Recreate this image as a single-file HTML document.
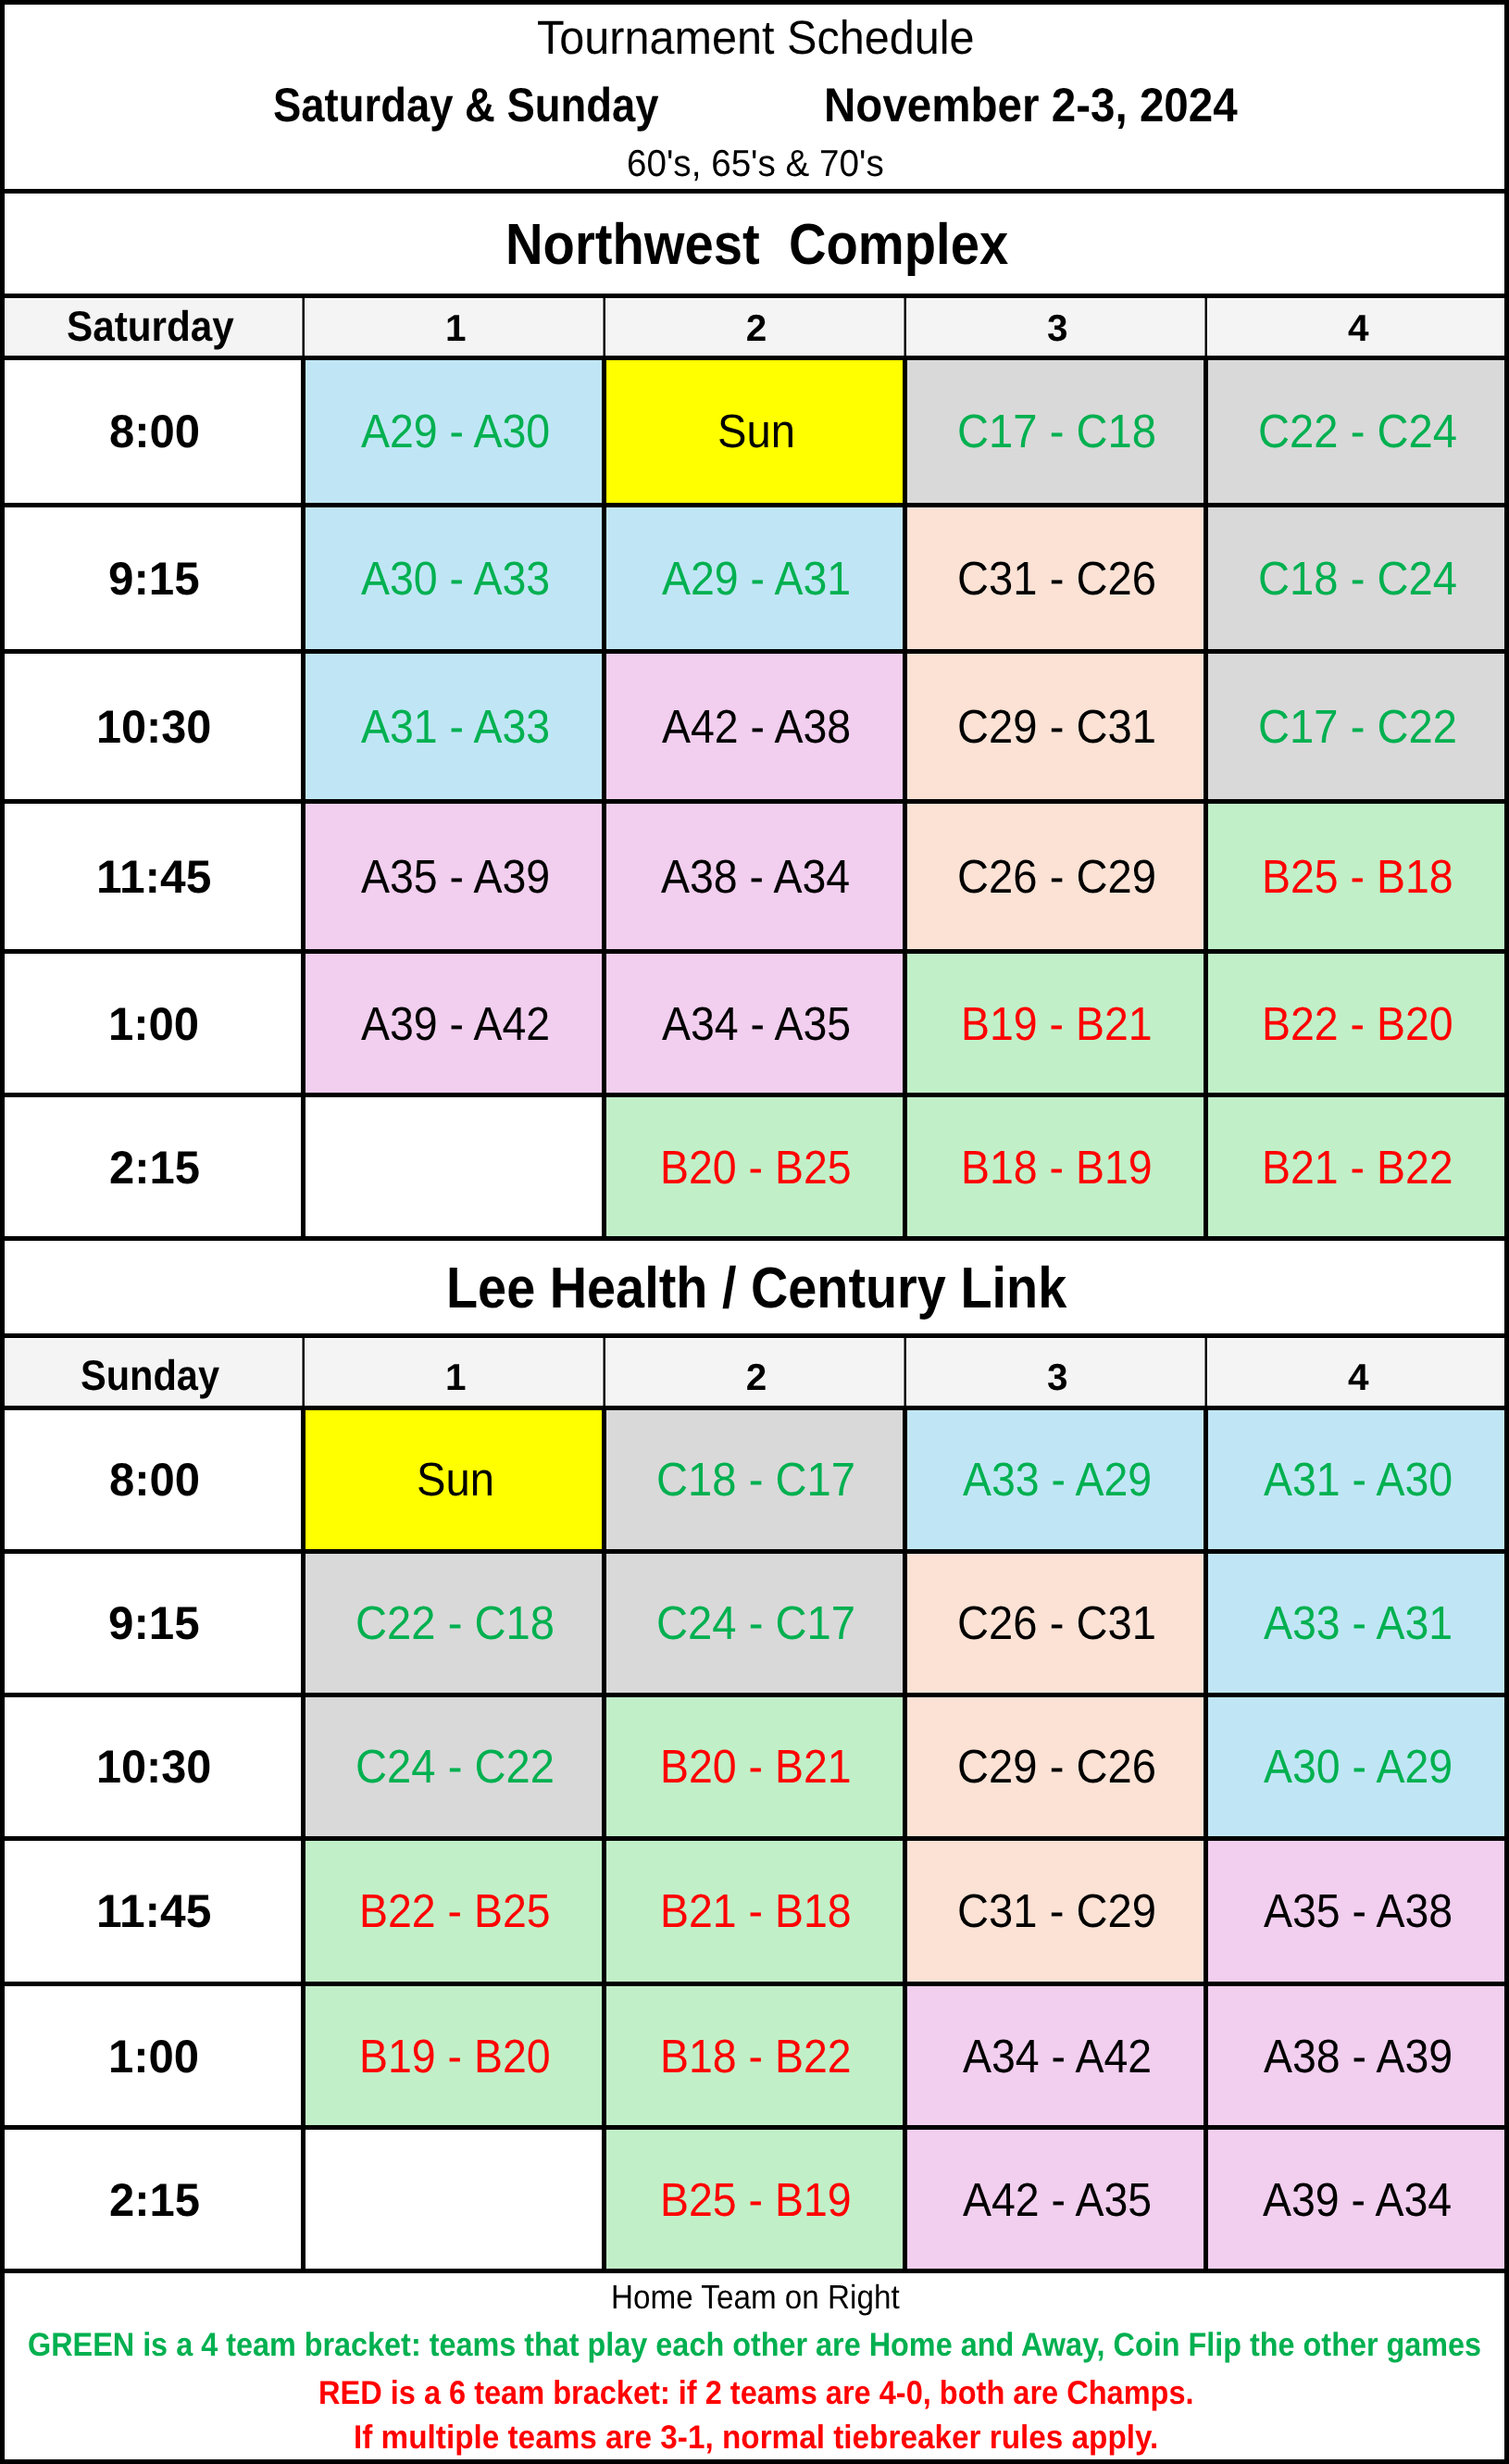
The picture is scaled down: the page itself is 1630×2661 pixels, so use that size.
<!DOCTYPE html>
<html><head><meta charset="utf-8"><title>Tournament Schedule</title>
<style>
html,body{margin:0;padding:0;background:#fff}
body{width:1630px;height:2661px;position:relative;overflow:hidden;font-family:"Liberation Sans",sans-serif}
#sheet{position:absolute;left:0;top:0;width:1630px;height:2661px;will-change:transform}
.r{position:absolute}
.t{position:absolute;white-space:pre;line-height:0;transform-origin:0 0;display:block;text-rendering:geometricPrecision}
.b{font-weight:bold}
.n{font-weight:normal}
</style></head>
<body>
<div id="sheet">
<div class="r" style="left:6px;top:323px;width:319px;height:60px;background:#f4f4f4"></div>
<div class="r" style="left:330px;top:323px;width:320px;height:60px;background:#f4f4f4"></div>
<div class="r" style="left:655px;top:323px;width:320px;height:60px;background:#f4f4f4"></div>
<div class="r" style="left:980px;top:323px;width:320px;height:60px;background:#f4f4f4"></div>
<div class="r" style="left:1305px;top:323px;width:320px;height:60px;background:#f4f4f4"></div>
<div class="r" style="left:330px;top:389px;width:320px;height:154px;background:#c0e6f5"></div>
<div class="r" style="left:655px;top:389px;width:320px;height:154px;background:#ffff00"></div>
<div class="r" style="left:980px;top:389px;width:320px;height:154px;background:#d9d9d9"></div>
<div class="r" style="left:1305px;top:389px;width:320px;height:154px;background:#d9d9d9"></div>
<div class="r" style="left:330px;top:548px;width:320px;height:153px;background:#c0e6f5"></div>
<div class="r" style="left:655px;top:548px;width:320px;height:153px;background:#c0e6f5"></div>
<div class="r" style="left:980px;top:548px;width:320px;height:153px;background:#fbe2d5"></div>
<div class="r" style="left:1305px;top:548px;width:320px;height:153px;background:#d9d9d9"></div>
<div class="r" style="left:330px;top:706px;width:320px;height:157px;background:#c0e6f5"></div>
<div class="r" style="left:655px;top:706px;width:320px;height:157px;background:#f2ceef"></div>
<div class="r" style="left:980px;top:706px;width:320px;height:157px;background:#fbe2d5"></div>
<div class="r" style="left:1305px;top:706px;width:320px;height:157px;background:#d9d9d9"></div>
<div class="r" style="left:330px;top:868px;width:320px;height:157px;background:#f2ceef"></div>
<div class="r" style="left:655px;top:868px;width:320px;height:157px;background:#f2ceef"></div>
<div class="r" style="left:980px;top:868px;width:320px;height:157px;background:#fbe2d5"></div>
<div class="r" style="left:1305px;top:868px;width:320px;height:157px;background:#c1f0c8"></div>
<div class="r" style="left:330px;top:1030px;width:320px;height:150px;background:#f2ceef"></div>
<div class="r" style="left:655px;top:1030px;width:320px;height:150px;background:#f2ceef"></div>
<div class="r" style="left:980px;top:1030px;width:320px;height:150px;background:#c1f0c8"></div>
<div class="r" style="left:1305px;top:1030px;width:320px;height:150px;background:#c1f0c8"></div>
<div class="r" style="left:655px;top:1185px;width:320px;height:150px;background:#c1f0c8"></div>
<div class="r" style="left:980px;top:1185px;width:320px;height:150px;background:#c1f0c8"></div>
<div class="r" style="left:1305px;top:1185px;width:320px;height:150px;background:#c1f0c8"></div>
<div class="r" style="left:6px;top:1446px;width:319px;height:71px;background:#f4f4f4"></div>
<div class="r" style="left:330px;top:1446px;width:320px;height:71px;background:#f4f4f4"></div>
<div class="r" style="left:655px;top:1446px;width:320px;height:71px;background:#f4f4f4"></div>
<div class="r" style="left:980px;top:1446px;width:320px;height:71px;background:#f4f4f4"></div>
<div class="r" style="left:1305px;top:1446px;width:320px;height:71px;background:#f4f4f4"></div>
<div class="r" style="left:330px;top:1523px;width:320px;height:150px;background:#ffff00"></div>
<div class="r" style="left:655px;top:1523px;width:320px;height:150px;background:#d9d9d9"></div>
<div class="r" style="left:980px;top:1523px;width:320px;height:150px;background:#c0e6f5"></div>
<div class="r" style="left:1305px;top:1523px;width:320px;height:150px;background:#c0e6f5"></div>
<div class="r" style="left:330px;top:1678px;width:320px;height:150px;background:#d9d9d9"></div>
<div class="r" style="left:655px;top:1678px;width:320px;height:150px;background:#d9d9d9"></div>
<div class="r" style="left:980px;top:1678px;width:320px;height:150px;background:#fbe2d5"></div>
<div class="r" style="left:1305px;top:1678px;width:320px;height:150px;background:#c0e6f5"></div>
<div class="r" style="left:330px;top:1833px;width:320px;height:150px;background:#d9d9d9"></div>
<div class="r" style="left:655px;top:1833px;width:320px;height:150px;background:#c1f0c8"></div>
<div class="r" style="left:980px;top:1833px;width:320px;height:150px;background:#fbe2d5"></div>
<div class="r" style="left:1305px;top:1833px;width:320px;height:150px;background:#c0e6f5"></div>
<div class="r" style="left:330px;top:1988px;width:320px;height:152px;background:#c1f0c8"></div>
<div class="r" style="left:655px;top:1988px;width:320px;height:152px;background:#c1f0c8"></div>
<div class="r" style="left:980px;top:1988px;width:320px;height:152px;background:#fbe2d5"></div>
<div class="r" style="left:1305px;top:1988px;width:320px;height:152px;background:#f2ceef"></div>
<div class="r" style="left:330px;top:2145px;width:320px;height:150px;background:#c1f0c8"></div>
<div class="r" style="left:655px;top:2145px;width:320px;height:150px;background:#c1f0c8"></div>
<div class="r" style="left:980px;top:2145px;width:320px;height:150px;background:#f2ceef"></div>
<div class="r" style="left:1305px;top:2145px;width:320px;height:150px;background:#f2ceef"></div>
<div class="r" style="left:655px;top:2300px;width:320px;height:150px;background:#c1f0c8"></div>
<div class="r" style="left:980px;top:2300px;width:320px;height:150px;background:#f2ceef"></div>
<div class="r" style="left:1305px;top:2300px;width:320px;height:150px;background:#f2ceef"></div>
<div class="r" style="left:0px;top:0px;width:1630px;height:5px;background:#000"></div>
<div class="r" style="left:0px;top:204px;width:1630px;height:5px;background:#000"></div>
<div class="r" style="left:0px;top:317px;width:1630px;height:5px;background:#000"></div>
<div class="r" style="left:0px;top:384px;width:1630px;height:5px;background:#000"></div>
<div class="r" style="left:0px;top:543px;width:1630px;height:5px;background:#000"></div>
<div class="r" style="left:0px;top:701px;width:1630px;height:5px;background:#000"></div>
<div class="r" style="left:0px;top:863px;width:1630px;height:5px;background:#000"></div>
<div class="r" style="left:0px;top:1025px;width:1630px;height:5px;background:#000"></div>
<div class="r" style="left:0px;top:1180px;width:1630px;height:5px;background:#000"></div>
<div class="r" style="left:0px;top:1335px;width:1630px;height:5px;background:#000"></div>
<div class="r" style="left:0px;top:1440px;width:1630px;height:5px;background:#000"></div>
<div class="r" style="left:0px;top:1518px;width:1630px;height:5px;background:#000"></div>
<div class="r" style="left:0px;top:1673px;width:1630px;height:5px;background:#000"></div>
<div class="r" style="left:0px;top:1828px;width:1630px;height:5px;background:#000"></div>
<div class="r" style="left:0px;top:1983px;width:1630px;height:5px;background:#000"></div>
<div class="r" style="left:0px;top:2140px;width:1630px;height:5px;background:#000"></div>
<div class="r" style="left:0px;top:2295px;width:1630px;height:5px;background:#000"></div>
<div class="r" style="left:0px;top:2450px;width:1630px;height:5px;background:#000"></div>
<div class="r" style="left:0px;top:2656px;width:1630px;height:5px;background:#000"></div>
<div class="r" style="left:0px;top:0px;width:5px;height:2661px;background:#000"></div>
<div class="r" style="left:1625px;top:0px;width:5px;height:2661px;background:#000"></div>
<div class="r" style="left:325px;top:384px;width:5px;height:956px;background:#000"></div>
<div class="r" style="left:650px;top:384px;width:5px;height:956px;background:#000"></div>
<div class="r" style="left:975px;top:384px;width:5px;height:956px;background:#000"></div>
<div class="r" style="left:1300px;top:384px;width:5px;height:956px;background:#000"></div>
<div class="r" style="left:325px;top:1518px;width:5px;height:937px;background:#000"></div>
<div class="r" style="left:650px;top:1518px;width:5px;height:937px;background:#000"></div>
<div class="r" style="left:975px;top:1518px;width:5px;height:937px;background:#000"></div>
<div class="r" style="left:1300px;top:1518px;width:5px;height:937px;background:#000"></div>
<div class="r" style="left:326px;top:322px;width:1px;height:62px;background:#777"></div>
<div class="r" style="left:327px;top:322px;width:2px;height:62px;background:#000"></div>
<div class="r" style="left:651px;top:322px;width:1px;height:62px;background:#777"></div>
<div class="r" style="left:652px;top:322px;width:2px;height:62px;background:#000"></div>
<div class="r" style="left:976px;top:322px;width:1px;height:62px;background:#777"></div>
<div class="r" style="left:977px;top:322px;width:2px;height:62px;background:#000"></div>
<div class="r" style="left:1301px;top:322px;width:1px;height:62px;background:#777"></div>
<div class="r" style="left:1302px;top:322px;width:2px;height:62px;background:#000"></div>
<div class="r" style="left:326px;top:1445px;width:1px;height:73px;background:#777"></div>
<div class="r" style="left:327px;top:1445px;width:2px;height:73px;background:#000"></div>
<div class="r" style="left:651px;top:1445px;width:1px;height:73px;background:#777"></div>
<div class="r" style="left:652px;top:1445px;width:2px;height:73px;background:#000"></div>
<div class="r" style="left:976px;top:1445px;width:1px;height:73px;background:#777"></div>
<div class="r" style="left:977px;top:1445px;width:2px;height:73px;background:#000"></div>
<div class="r" style="left:1301px;top:1445px;width:1px;height:73px;background:#777"></div>
<div class="r" style="left:1302px;top:1445px;width:2px;height:73px;background:#000"></div>
<span class="t n" style="left:580.41px;top:41px;font-size:51.2px;color:#000000;transform:scaleX(0.9490)">Tournament Schedule</span>
<span class="t b" style="left:294.64px;top:113px;font-size:51.7px;color:#000000;transform:scaleX(0.8790)">Saturday &amp; Sunday</span>
<span class="t b" style="left:890.49px;top:113px;font-size:51.7px;color:#000000;transform:scaleX(0.9200)">November 2-3, 2024</span>
<span class="t n" style="left:677.07px;top:176px;font-size:40.4px;color:#000000;transform:scaleX(0.9566)">60&#x27;s, 65&#x27;s &amp; 70&#x27;s</span>
<span class="t b" style="left:545.81px;top:265px;font-size:62.4px;color:#000000;transform:scaleX(0.9006)">Northwest  Complex</span>
<span class="t b" style="left:482.03px;top:1392px;font-size:62.4px;color:#000000;transform:scaleX(0.8950)">Lee Health / Century Link</span>
<span class="t b" style="left:72.33px;top:352px;font-size:46px;color:#000000;transform:scaleX(0.9188)">Saturday</span>
<span class="t b" style="left:87.15px;top:1485px;font-size:46px;color:#000000;transform:scaleX(0.9030)">Sunday</span>
<span class="t b" style="left:480.90px;top:354px;font-size:40.5px;color:#000000;transform:scaleX(1.0000)">1</span>
<span class="t b" style="left:805.86px;top:354px;font-size:40.5px;color:#000000;transform:scaleX(1.0000)">2</span>
<span class="t b" style="left:1131.11px;top:354px;font-size:40.5px;color:#000000;transform:scaleX(1.0000)">3</span>
<span class="t b" style="left:1455.96px;top:354px;font-size:40.5px;color:#000000;transform:scaleX(1.0000)">4</span>
<span class="t b" style="left:480.90px;top:1487px;font-size:40.5px;color:#000000;transform:scaleX(1.0000)">1</span>
<span class="t b" style="left:805.86px;top:1487px;font-size:40.5px;color:#000000;transform:scaleX(1.0000)">2</span>
<span class="t b" style="left:1131.11px;top:1487px;font-size:40.5px;color:#000000;transform:scaleX(1.0000)">3</span>
<span class="t b" style="left:1455.96px;top:1487px;font-size:40.5px;color:#000000;transform:scaleX(1.0000)">4</span>
<span class="t b" style="left:117.86px;top:466px;font-size:50px;color:#000000;transform:scaleX(0.9805)">8:00</span>
<span class="t n" style="left:389.53px;top:466px;font-size:51px;color:#00b050;transform:scaleX(0.9110)">A29 - A30</span>
<span class="t n" style="left:774.54px;top:466px;font-size:51px;color:#000000;transform:scaleX(0.9250)">Sun</span>
<span class="t n" style="left:1034.12px;top:466px;font-size:51px;color:#00b050;transform:scaleX(0.9250)">C17 - C18</span>
<span class="t n" style="left:1358.77px;top:466px;font-size:51px;color:#00b050;transform:scaleX(0.9250)">C22 - C24</span>
<span class="t b" style="left:117.22px;top:625px;font-size:50px;color:#000000;transform:scaleX(0.9858)">9:15</span>
<span class="t n" style="left:389.65px;top:625px;font-size:51px;color:#00b050;transform:scaleX(0.9110)">A30 - A33</span>
<span class="t n" style="left:714.76px;top:625px;font-size:51px;color:#00b050;transform:scaleX(0.9110)">A29 - A31</span>
<span class="t n" style="left:1034.12px;top:625px;font-size:51px;color:#000000;transform:scaleX(0.9250)">C31 - C26</span>
<span class="t n" style="left:1358.77px;top:625px;font-size:51px;color:#00b050;transform:scaleX(0.9250)">C18 - C24</span>
<span class="t b" style="left:103.96px;top:785px;font-size:50px;color:#000000;transform:scaleX(0.9727)">10:30</span>
<span class="t n" style="left:389.65px;top:785px;font-size:51px;color:#00b050;transform:scaleX(0.9110)">A31 - A33</span>
<span class="t n" style="left:714.65px;top:785px;font-size:51px;color:#000000;transform:scaleX(0.9110)">A42 - A38</span>
<span class="t n" style="left:1034.24px;top:785px;font-size:51px;color:#000000;transform:scaleX(0.9250)">C29 - C31</span>
<span class="t n" style="left:1359.30px;top:785px;font-size:51px;color:#00b050;transform:scaleX(0.9250)">C17 - C22</span>
<span class="t b" style="left:103.70px;top:947px;font-size:50px;color:#000000;transform:scaleX(0.9932)">11:45</span>
<span class="t n" style="left:389.71px;top:947px;font-size:51px;color:#000000;transform:scaleX(0.9110)">A35 - A39</span>
<span class="t n" style="left:714.30px;top:947px;font-size:51px;color:#000000;transform:scaleX(0.9110)">A38 - A34</span>
<span class="t n" style="left:1034.18px;top:947px;font-size:51px;color:#000000;transform:scaleX(0.9250)">C26 - C29</span>
<span class="t n" style="left:1362.91px;top:947px;font-size:51px;color:#ff0000;transform:scaleX(0.9110)">B25 - B18</span>
<span class="t b" style="left:117.14px;top:1106px;font-size:50px;color:#000000;transform:scaleX(0.9802)">1:00</span>
<span class="t n" style="left:389.82px;top:1106px;font-size:51px;color:#000000;transform:scaleX(0.9110)">A39 - A42</span>
<span class="t n" style="left:714.59px;top:1106px;font-size:51px;color:#000000;transform:scaleX(0.9110)">A34 - A35</span>
<span class="t n" style="left:1038.03px;top:1106px;font-size:51px;color:#ff0000;transform:scaleX(0.9110)">B19 - B21</span>
<span class="t n" style="left:1362.80px;top:1106px;font-size:51px;color:#ff0000;transform:scaleX(0.9110)">B22 - B20</span>
<span class="t b" style="left:117.59px;top:1261px;font-size:50px;color:#000000;transform:scaleX(0.9786)">2:15</span>
<span class="t n" style="left:712.85px;top:1261px;font-size:51px;color:#ff0000;transform:scaleX(0.9110)">B20 - B25</span>
<span class="t n" style="left:1037.97px;top:1261px;font-size:51px;color:#ff0000;transform:scaleX(0.9110)">B18 - B19</span>
<span class="t n" style="left:1363.09px;top:1261px;font-size:51px;color:#ff0000;transform:scaleX(0.9110)">B21 - B22</span>
<span class="t b" style="left:117.86px;top:1598px;font-size:50px;color:#000000;transform:scaleX(0.9805)">8:00</span>
<span class="t n" style="left:449.54px;top:1598px;font-size:51px;color:#000000;transform:scaleX(0.9250)">Sun</span>
<span class="t n" style="left:709.30px;top:1598px;font-size:51px;color:#00b050;transform:scaleX(0.9250)">C18 - C17</span>
<span class="t n" style="left:1039.71px;top:1598px;font-size:51px;color:#00b050;transform:scaleX(0.9110)">A33 - A29</span>
<span class="t n" style="left:1364.53px;top:1598px;font-size:51px;color:#00b050;transform:scaleX(0.9110)">A31 - A30</span>
<span class="t b" style="left:117.22px;top:1753px;font-size:50px;color:#000000;transform:scaleX(0.9858)">9:15</span>
<span class="t n" style="left:384.12px;top:1753px;font-size:51px;color:#00b050;transform:scaleX(0.9250)">C22 - C18</span>
<span class="t n" style="left:709.30px;top:1753px;font-size:51px;color:#00b050;transform:scaleX(0.9250)">C24 - C17</span>
<span class="t n" style="left:1034.24px;top:1753px;font-size:51px;color:#000000;transform:scaleX(0.9250)">C26 - C31</span>
<span class="t n" style="left:1364.76px;top:1753px;font-size:51px;color:#00b050;transform:scaleX(0.9110)">A33 - A31</span>
<span class="t b" style="left:103.96px;top:1908px;font-size:50px;color:#000000;transform:scaleX(0.9727)">10:30</span>
<span class="t n" style="left:384.30px;top:1908px;font-size:51px;color:#00b050;transform:scaleX(0.9250)">C24 - C22</span>
<span class="t n" style="left:713.03px;top:1908px;font-size:51px;color:#ff0000;transform:scaleX(0.9110)">B20 - B21</span>
<span class="t n" style="left:1034.12px;top:1908px;font-size:51px;color:#000000;transform:scaleX(0.9250)">C29 - C26</span>
<span class="t n" style="left:1364.71px;top:1908px;font-size:51px;color:#00b050;transform:scaleX(0.9110)">A30 - A29</span>
<span class="t b" style="left:103.70px;top:2064px;font-size:50px;color:#000000;transform:scaleX(0.9932)">11:45</span>
<span class="t n" style="left:387.85px;top:2064px;font-size:51px;color:#ff0000;transform:scaleX(0.9110)">B22 - B25</span>
<span class="t n" style="left:712.91px;top:2064px;font-size:51px;color:#ff0000;transform:scaleX(0.9110)">B21 - B18</span>
<span class="t n" style="left:1034.18px;top:2064px;font-size:51px;color:#000000;transform:scaleX(0.9250)">C31 - C29</span>
<span class="t n" style="left:1364.65px;top:2064px;font-size:51px;color:#000000;transform:scaleX(0.9110)">A35 - A38</span>
<span class="t b" style="left:117.14px;top:2221px;font-size:50px;color:#000000;transform:scaleX(0.9802)">1:00</span>
<span class="t n" style="left:387.80px;top:2221px;font-size:51px;color:#ff0000;transform:scaleX(0.9110)">B19 - B20</span>
<span class="t n" style="left:713.09px;top:2221px;font-size:51px;color:#ff0000;transform:scaleX(0.9110)">B18 - B22</span>
<span class="t n" style="left:1039.82px;top:2221px;font-size:51px;color:#000000;transform:scaleX(0.9110)">A34 - A42</span>
<span class="t n" style="left:1364.71px;top:2221px;font-size:51px;color:#000000;transform:scaleX(0.9110)">A38 - A39</span>
<span class="t b" style="left:117.59px;top:2376px;font-size:50px;color:#000000;transform:scaleX(0.9786)">2:15</span>
<span class="t n" style="left:712.97px;top:2376px;font-size:51px;color:#ff0000;transform:scaleX(0.9110)">B25 - B19</span>
<span class="t n" style="left:1039.59px;top:2376px;font-size:51px;color:#000000;transform:scaleX(0.9110)">A42 - A35</span>
<span class="t n" style="left:1364.30px;top:2376px;font-size:51px;color:#000000;transform:scaleX(0.9110)">A39 - A34</span>
<span class="t n" style="left:660.16px;top:2481px;font-size:36.4px;color:#000000;transform:scaleX(0.9134)">Home Team on Right</span>
<span class="t b" style="left:30.30px;top:2532px;font-size:35.6px;color:#00b050;transform:scaleX(0.9100)">GREEN is a 4 team bracket: teams that play each other are Home and Away, Coin Flip the other games</span>
<span class="t b" style="left:344.10px;top:2584px;font-size:35.8px;color:#ff0000;transform:scaleX(0.9088)">RED is a 6 team bracket: if 2 teams are 4-0, both are Champs.</span>
<span class="t b" style="left:382.25px;top:2632px;font-size:35.8px;color:#ff0000;transform:scaleX(0.9304)">If multiple teams are 3-1, normal tiebreaker rules apply.</span>
</div>
</body></html>
